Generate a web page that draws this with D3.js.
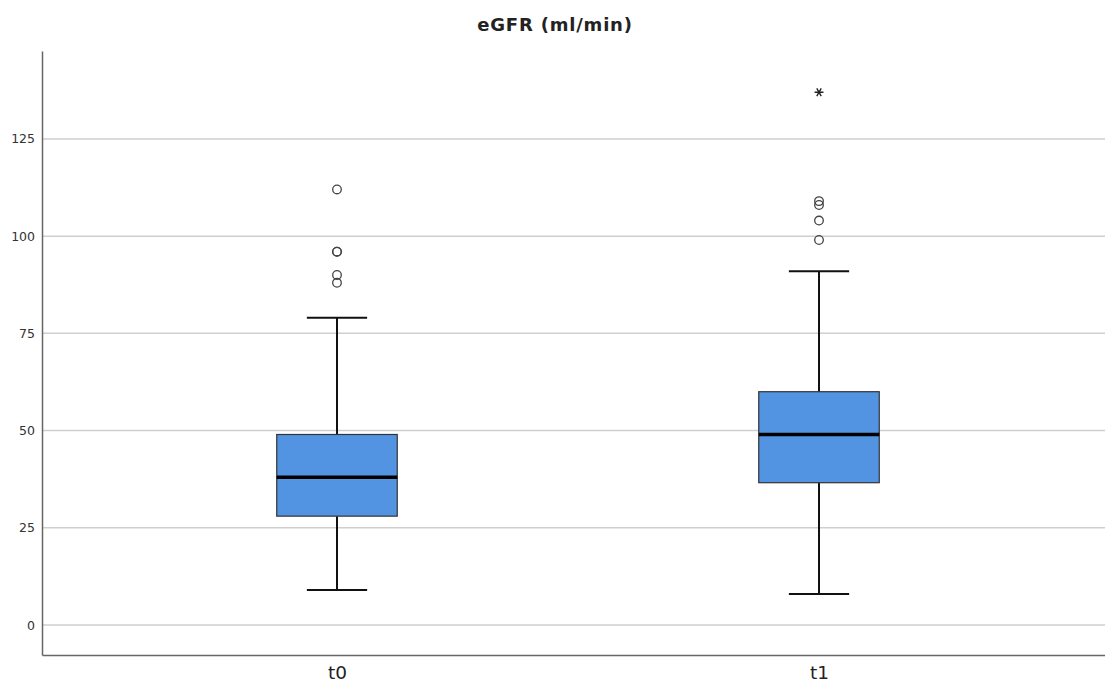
<!DOCTYPE html>
<html>
<head>
<meta charset="utf-8">
<script src="https://cdn.jsdelivr.net/npm/d3@7"></script>
<style>
  html, body { margin: 0; padding: 0; background: #fff; }
  svg { display: block; }
</style>
</head>
<body>
<svg id="chart" width="1105" height="684"></svg>
<script>
const title = "eGFR (ml/min)";
const categories = ["t0", "t1"];
const whiskerLow = [9, 8];
const q1 = [28, 36.6];
const median = [38, 49];
const q3 = [49, 60];
const whiskerHigh = [79, 91];
const outliersT0 = [112, 96, 96, 90, 88];
const outliersT1 = [109, 108, 104, 99];
const extremesT0 = [];
const extremesT1 = [137];
const yTicks = [0, 25, 50, 75, 100, 125];

const outliers = [outliersT0, outliersT1];
const extremes = [extremesT0, extremesT1];

const svg = d3.select("#chart");
const font = "'DejaVu Sans', Verdana, sans-serif";

const plotLeft = 42, plotTop = 51, plotBottom = 655, plotRightEnd = 1114;

const y = d3.scaleLinear().domain([-7.7, 147.6]).range([plotBottom, plotTop]);
const x = d3.scalePoint().domain(categories).range([plotLeft, plotRightEnd]).padding(0.612);
const step = x.step();
const boxW = step * 0.25;
const capW = boxW * 0.5;

// gridlines
svg.append("g")
  .selectAll("line")
  .data(yTicks)
  .join("line")
  .attr("x1", plotLeft).attr("x2", 1105)
  .attr("y1", d => y(d)).attr("y2", d => y(d))
  .attr("stroke", "#cfcfcf").attr("stroke-width", 1.5);

// y axis
const yAxis = d3.axisLeft(y).tickValues(yTicks).tickSize(0).tickPadding(7);
const gy = svg.append("g").attr("transform", `translate(${plotLeft},0)`).call(yAxis);
gy.select(".domain").attr("stroke", "#666").attr("stroke-width", 1.5);
gy.selectAll("text").attr("font-family", font).attr("font-size", 12.5).attr("fill", "#333");

// x axis
const xAxis = d3.axisBottom(x).tickSize(0).tickPadding(11);
const gx = svg.append("g").attr("transform", `translate(0,${plotBottom})`).call(xAxis);
gx.select(".domain").attr("stroke", "#666").attr("stroke-width", 1.5);
gx.selectAll("text").attr("font-family", font).attr("font-size", 18.5).attr("fill", "#222");

// boxes
const g = svg.append("g");
const star = d3.symbol().type(d3.symbolAsterisk).size(55);
categories.forEach((cat, i) => {
  const cx = x(cat);
  g.append("line").attr("x1", cx).attr("x2", cx)
    .attr("y1", y(q3[i])).attr("y2", y(whiskerHigh[i]))
    .attr("stroke", "#111").attr("stroke-width", 2);
  g.append("line").attr("x1", cx).attr("x2", cx)
    .attr("y1", y(q1[i])).attr("y2", y(whiskerLow[i]))
    .attr("stroke", "#111").attr("stroke-width", 2);
  g.append("line").attr("x1", cx - capW / 2).attr("x2", cx + capW / 2)
    .attr("y1", y(whiskerHigh[i])).attr("y2", y(whiskerHigh[i]))
    .attr("stroke", "#111").attr("stroke-width", 2);
  g.append("line").attr("x1", cx - capW / 2).attr("x2", cx + capW / 2)
    .attr("y1", y(whiskerLow[i])).attr("y2", y(whiskerLow[i]))
    .attr("stroke", "#111").attr("stroke-width", 2);
  g.append("rect")
    .attr("x", cx - boxW / 2).attr("width", boxW)
    .attr("y", y(q3[i])).attr("height", y(q1[i]) - y(q3[i]))
    .attr("fill", "#5294e2").attr("stroke", "#333").attr("stroke-width", 1.2);
  g.append("line").attr("x1", cx - boxW / 2).attr("x2", cx + boxW / 2)
    .attr("y1", y(median[i])).attr("y2", y(median[i]))
    .attr("stroke", "#000").attr("stroke-width", 3.5);
  g.append("g").selectAll("circle")
    .data(outliers[i])
    .join("circle")
    .attr("cx", cx).attr("cy", d => y(d)).attr("r", 4.3)
    .attr("fill", "none").attr("stroke", "#444").attr("stroke-width", 1.3);
  g.append("g").selectAll("path")
    .data(extremes[i])
    .join("path")
    .attr("transform", d => `translate(${cx},${y(d)}) rotate(90)`)
    .attr("d", star)
    .attr("fill", "none").attr("stroke", "#222").attr("stroke-width", 1.4);
});

// title
svg.append("text")
  .attr("x", 555).attr("y", 31)
  .attr("text-anchor", "middle")
  .attr("font-family", font).attr("font-weight", "bold")
  .attr("font-size", 18).attr("letter-spacing", 0.8).attr("fill", "#222")
  .text(title);
</script>
</body>
</html>
